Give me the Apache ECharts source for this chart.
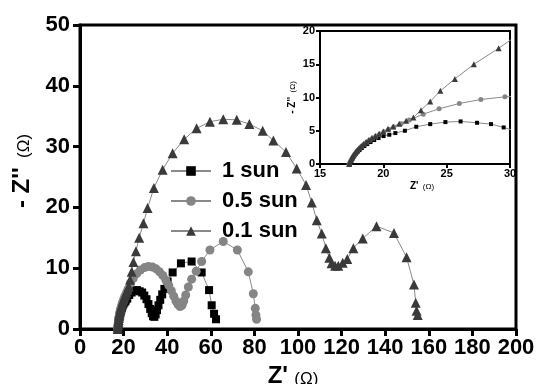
<!DOCTYPE html>
<html>
<head>
<meta charset="utf-8">
<script src="https://cdn.jsdelivr.net/npm/echarts@6/dist/echarts.min.js"></script>
<style>
  html, body { margin: 0; padding: 0; background: #fff; }
  #chart { width: 539px; height: 384px; }
</style>
</head>
<body>
<div id="chart"></div>
<script>
// Nyquist data, [Z', -Z''] in ohm
const sun1 = [
  [17.35, 0], [17.42, 0.3], [17.5, 0.6], [17.59, 0.9], [17.7, 1.2], [17.82, 1.5], [17.96, 1.8],
  [18.12, 2.1], [18.3, 2.4], [18.5, 2.7], [18.73, 3.0], [18.99, 3.3], [19.28, 3.6], [19.62, 3.9],
  [20.02, 4.2], [20.47, 4.4], [20.95, 4.65], [21.7, 5.0], [22.6, 5.6], [23.7, 6.0], [24.9, 6.3],
  [26.1, 6.4], [27.4, 6.2], [28.5, 6.0], [29.5, 5.5], [30.5, 4.9], [31.4, 4.1], [32.2, 3.3],
  [32.9, 2.6], [33.5, 2.1], [34.1, 2.0], [34.7, 2.4], [35.3, 3.1], [36.0, 3.9], [36.8, 4.8],
  [37.7, 5.7], [38.7, 6.6], [40.2, 7.8], [42.5, 9.3], [46.3, 10.8], [51.2, 11.1], [55.8, 9.3],
  [59.2, 6.4], [60.4, 3.9], [61.5, 2.5], [62.4, 1.6]
];
const sun05 = [
  [17.3, 0], [17.37, 0.3], [17.45, 0.6], [17.54, 0.9], [17.64, 1.2], [17.75, 1.5], [17.87, 1.8],
  [18.0, 2.1], [18.15, 2.4], [18.31, 2.7], [18.49, 3.0], [18.69, 3.3], [18.91, 3.6], [19.15, 3.9],
  [19.42, 4.2], [19.72, 4.5], [20.05, 4.85], [20.42, 5.2], [20.83, 5.55], [21.4, 6.05], [22.05, 6.6],
  [23.15, 7.5], [24.4, 8.3], [26.0, 9.1], [27.7, 9.7], [29.6, 10.1], [31.4, 10.3], [33.2, 10.2],
  [34.9, 9.9], [36.5, 9.4], [38.0, 8.8], [39.4, 8.0], [40.7, 7.2], [41.9, 6.3], [43.0, 5.4],
  [44.0, 4.6], [45.0, 4.0], [45.9, 3.7], [46.8, 3.9], [47.6, 4.6], [48.5, 5.6], [49.7, 6.9],
  [51.2, 8.2], [53.3, 9.5], [55.8, 11.1], [59.6, 13.0], [65.7, 14.4], [72.2, 13.0], [77.2, 9.4],
  [79.5, 5.8], [80.4, 3.4], [80.7, 2.3], [81.0, 1.6]
];
const sun01 = [
  [17.3, 0], [17.36, 0.3], [17.43, 0.6], [17.51, 0.9], [17.6, 1.2], [17.7, 1.5], [17.82, 1.8],
  [17.95, 2.1], [18.1, 2.4], [18.26, 2.7], [18.44, 3.0], [18.64, 3.3], [18.86, 3.6], [19.1, 3.9],
  [19.37, 4.2], [19.67, 4.55], [20.0, 4.9], [20.37, 5.3], [20.78, 5.65], [21.25, 6.05], [21.8, 6.5],
  [22.37, 7.0], [22.97, 8.1], [23.7, 9.4], [24.5, 11.0], [25.65, 12.8], [27.15, 15.0], [29.1, 17.4],
  [31.0, 19.9], [33.9, 23.2], [37.9, 26.2], [42.5, 28.9], [47.8, 31.2], [53.5, 33.0], [59.6, 34.1],
  [65.7, 34.5], [71.9, 34.4], [77.7, 33.7], [83.8, 32.6], [88.7, 31.0], [94.5, 29.1], [99.4, 26.4],
  [103.7, 23.7], [106.3, 20.8], [108.6, 17.9], [110.9, 15.7], [112.8, 13.3], [114.4, 11.7],
  [115.4, 10.8], [117.0, 10.4], [118.5, 10.4], [120.5, 10.9], [122.6, 11.5], [125.4, 13.3],
  [129.7, 14.9], [136.0, 16.9], [144.0, 15.8], [149.8, 11.8], [153.2, 7.3], [154.0, 4.3],
  [154.4, 3.0], [154.9, 2.3]
];
const seriesNames = ['1 sun', '0.5 sun', '0.1 sun'];

const font = 'Arial, "Liberation Sans", sans-serif';
const lineColor = '#8a8a8a';
const colors = ['#000000', '#858585', '#3a3a3a'];
const symbols = ['rect', 'circle', 'triangle'];
const mainSizes = [8, 9, 10];
const insetSizes = [4, 5, 6];
const datasets = [sun1, sun05, sun01];

const chart = echarts.init(document.getElementById('chart'));

function axisCommon(size, lw, tickLen, margin) {
    return {
        axisLine: { show: true, onZero: false, lineStyle: { color: '#000', width: lw } },
        axisTick: { show: true, inside: false, length: tickLen, lineStyle: { color: '#000', width: lw } },
        axisLabel: { color: '#000', fontSize: size, fontWeight: 'bold', fontFamily: font, margin: margin },
        splitLine: { show: false }
    };
}

// axis title like  Z' (Ω)  with a smaller, lowered unit
function titleRich(big, small, gap, drop) {
    return {
        rich: {
            a: { fontSize: big, fontWeight: 'bold', color: '#000', fontFamily: font },
            b: { fontSize: small, color: '#000', fontFamily: font, padding: [drop, 0, 0, gap] }
        }
    };
}

const series = [];
datasets.forEach((d, i) => {
    series.push({
        name: seriesNames[i],
        type: 'line',
        xAxisIndex: 0, yAxisIndex: 0,
        data: d,
        symbol: symbols[i],
        symbolSize: mainSizes[i],
        showAllSymbol: true,
        itemStyle: { color: colors[i] },
        lineStyle: { color: lineColor, width: 1 },
        animation: false
    });
});
datasets.forEach((d, i) => {
    series.push({
        name: seriesNames[i] + ' inset',
        type: 'line',
        xAxisIndex: 1, yAxisIndex: 1,
        data: d,
        symbol: symbols[i],
        symbolSize: insetSizes[i],
        showAllSymbol: true,
        clip: true,
        itemStyle: { color: colors[i] },
        lineStyle: { color: lineColor, width: 1 },
        animation: false
    });
});

chart.setOption({
    backgroundColor: '#fff',
    textStyle: { fontFamily: font },
    grid: [
        { left: 80, right: 23, top: 25, bottom: 55, show: true, borderColor: '#000', borderWidth: 3, outerBoundsMode: 'none' },
        { left: 320, right: 29, top: 31, bottom: 220, show: true, borderColor: '#000', borderWidth: 2, backgroundColor: '#fff', outerBoundsMode: 'none' }
    ],
    legend: {
        data: seriesNames,
        orient: 'vertical',
        left: 165,
        top: 155,
        itemWidth: 40,
        itemHeight: 12,
        itemGap: 8,
        textStyle: { fontSize: 22, fontWeight: 'bold', color: '#000', fontFamily: font, padding: [0, 0, 0, 6] }
    },
    xAxis: [
        Object.assign({
            type: 'value', gridIndex: 0, min: 0, max: 200, interval: 20,
            name: "{a|Z'} {b|(Ω)}",
            nameLocation: 'middle',
            nameGap: 35,
            nameTextStyle: Object.assign({ padding: [0, 10, 0, 0] }, titleRich(24, 17, 3, 6))
        }, axisCommon(22, 3, 7, 8)),
        Object.assign({
            type: 'value', gridIndex: 1, min: 15, max: 30, interval: 5,
            name: "{a|Z'} {b|(Ω)}",
            nameLocation: 'middle',
            nameGap: 15,
            nameTextStyle: Object.assign({ padding: [0, 0, 0, 14] }, titleRich(10, 8, 1, 2))
        }, axisCommon(11, 2, 4, 4))
    ],
    yAxis: [
        Object.assign({
            type: 'value', gridIndex: 0, min: 0, max: 50, interval: 10,
            name: "{a|- Z''} {b|(Ω)}",
            nameLocation: 'middle',
            nameGap: 42,
            nameTextStyle: Object.assign({ padding: [0, 0, 0, 12] }, titleRich(24, 17, 6, 4))
        }, axisCommon(22, 3, 7, 10)),
        Object.assign({
            type: 'value', gridIndex: 1, min: 0, max: 20, interval: 5,
            name: "{a|- Z''} {b|(Ω)}",
            nameLocation: 'middle',
            nameGap: 22,
            nameTextStyle: titleRich(10, 8, 1, 2)
        }, axisCommon(11, 2, 4, 5))
    ],
    series: series
});
</script>
</body>
</html>
